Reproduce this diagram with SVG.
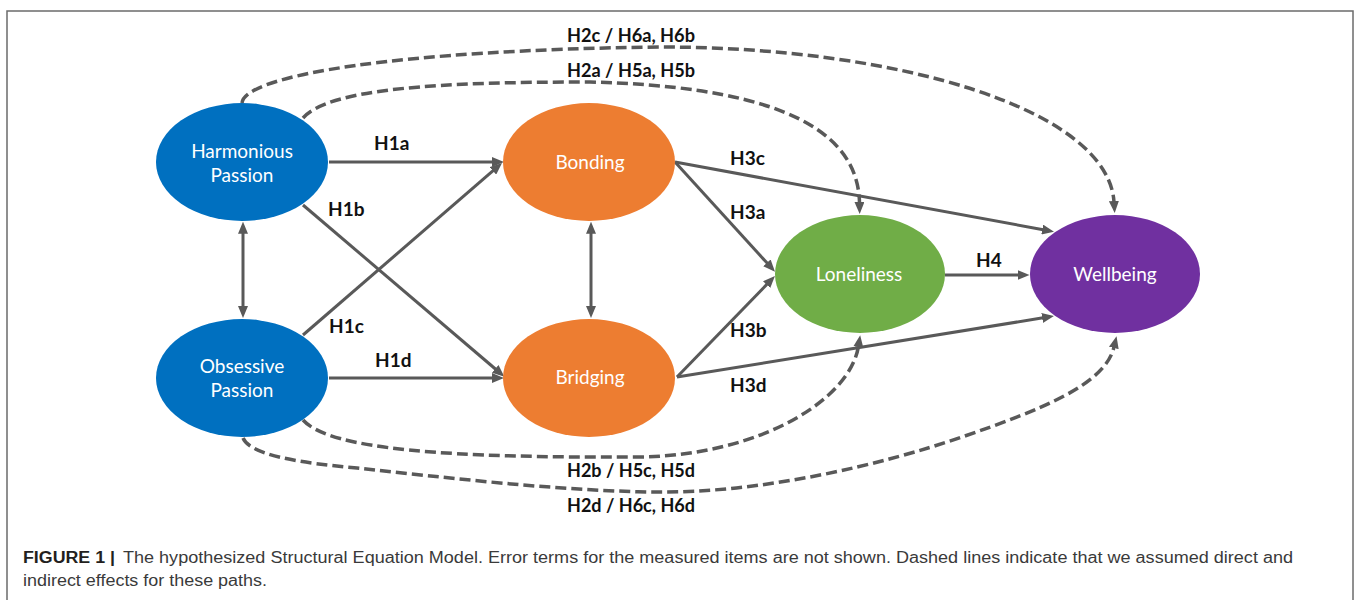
<svg xmlns="http://www.w3.org/2000/svg" width="1357" height="600" viewBox="0 0 1357 600">
<style>
.frame{fill:none;stroke:#6b6b6b;stroke-width:1.5}
.ntext{font-family:Lato,"Open Sans","Liberation Sans",sans-serif;font-size:19px;fill:#ffffff;text-anchor:middle}
.lbl{font-family:Lato,"Open Sans","Liberation Sans",sans-serif;font-size:19px;font-weight:bold;fill:#111111}
.solid{fill:none;stroke:#595959;stroke-width:3;marker-end:url(#ah)}
.dbl{fill:none;stroke:#595959;stroke-width:3;marker-start:url(#ah);marker-end:url(#ah)}
.dash{fill:none;stroke:#595959;stroke-width:3.5;stroke-dasharray:11 5;marker-end:url(#ah)}
.cap{font-family:"Liberation Sans",Arial,sans-serif;font-size:16px;fill:#3a3a3a}
.capb{font-family:"Liberation Sans",Arial,sans-serif;font-size:16px;font-weight:bold;fill:#231f20}
</style>
<defs>
<marker id="ah" viewBox="0 0 12 10" refX="1" refY="5" markerWidth="12" markerHeight="10" markerUnits="userSpaceOnUse" orient="auto-start-reverse">
<path d="M0,0 L12,5 L0,10 z" fill="#595959"/>
</marker>
</defs>
<rect width="1357" height="600" fill="#ffffff"/>
<rect class="frame" x="7" y="11" width="1346" height="620"/>

<g id="connectors">
<line class="solid" x1="329" y1="162" x2="493" y2="162"/>
<line class="solid" x1="329" y1="378" x2="493" y2="378"/>
<line class="solid" x1="303" y1="205" x2="496" y2="369.5"/>
<line class="solid" x1="303" y1="335" x2="493.7" y2="170.2"/>
<line class="dbl" x1="243" y1="232.7" x2="243" y2="307"/>
<line class="dbl" x1="591" y1="232.7" x2="591" y2="307"/>
<line class="solid" x1="675" y1="162" x2="767.6" y2="263.6"/>
<line class="solid" x1="677" y1="377" x2="767.3" y2="283.9"/>
<line class="solid" x1="675" y1="162" x2="1043.2" y2="229.7"/>
<line class="solid" x1="677" y1="377" x2="1043.1" y2="317.8"/>
<line class="solid" x1="945" y1="275" x2="1018.5" y2="275"/>
<path class="dash" d="M242 103 C245 75 400 50 660 47 C900 47 1108 110 1114 202"/>
<path class="dash" d="M303 118 C330 88 440 82 590 82 C750 86 858 118 859.5 203"/>
<path class="dash" d="M303 420 C330 450 450 458 640 457 C760 455 850 400 858.5 346"/>
<path class="dash" d="M243 438 C250 455 300 463 357 468 C450 478 550 490 650 492 C760 494 880 465 962 437 C1040 410 1105 385 1114 347"/>
</g>

<g id="edge-labels">
<text class="lbl" x="374" y="150">H1a</text>
<text class="lbl" x="328" y="216">H1b</text>
<text class="lbl" x="329" y="333">H1c</text>
<text class="lbl" x="375" y="367">H1d</text>
<text class="lbl" x="730" y="165">H3c</text>
<text class="lbl" x="730" y="219">H3a</text>
<text class="lbl" x="730" y="337">H3b</text>
<text class="lbl" x="730" y="392">H3d</text>
<text class="lbl" x="976" y="267">H4</text>
<text class="lbl" x="567" y="42" textLength="128" lengthAdjust="spacingAndGlyphs">H2c / H6a, H6b</text>
<text class="lbl" x="567" y="77" textLength="128" lengthAdjust="spacingAndGlyphs">H2a / H5a, H5b</text>
<text class="lbl" x="567" y="477" textLength="128" lengthAdjust="spacingAndGlyphs">H2b / H5c, H5d</text>
<text class="lbl" x="567" y="512" textLength="128" lengthAdjust="spacingAndGlyphs">H2d / H6c, H6d</text>
</g>

<g id="harmonious-passion">
<ellipse cx="242" cy="162" rx="86" ry="59" fill="#0070C0"/>
<text class="ntext" x="242" y="158">Harmonious</text>
<text class="ntext" x="242" y="182">Passion</text>
</g>
<g id="obsessive-passion">
<ellipse cx="242" cy="378" rx="86" ry="59" fill="#0070C0"/>
<text class="ntext" x="242" y="373">Obsessive</text>
<text class="ntext" x="242" y="397">Passion</text>
</g>
<g id="bonding">
<ellipse cx="589" cy="162" rx="86" ry="59" fill="#ED7D31"/>
<text class="ntext" x="590" y="169">Bonding</text>
</g>
<g id="bridging">
<ellipse cx="589" cy="378" rx="86" ry="59" fill="#ED7D31"/>
<text class="ntext" x="590" y="384">Bridging</text>
</g>
<g id="loneliness">
<ellipse cx="860" cy="274" rx="85" ry="59" fill="#70AD47"/>
<text class="ntext" x="859" y="281">Loneliness</text>
</g>
<g id="wellbeing">
<ellipse cx="1115" cy="274" rx="85" ry="59" fill="#7030A0"/>
<text class="ntext" x="1115" y="281">Wellbeing</text>
</g>

<g id="caption">
<text class="capb" x="23" y="563" textLength="92" lengthAdjust="spacingAndGlyphs">FIGURE 1 |</text>
<text class="cap" x="123" y="563" textLength="1170" lengthAdjust="spacingAndGlyphs">The hypothesized Structural Equation Model. Error terms for the measured items are not shown. Dashed lines indicate that we assumed direct and</text>
<text class="cap" x="23" y="586" textLength="244" lengthAdjust="spacingAndGlyphs">indirect effects for these paths.</text>
</g>
</svg>
